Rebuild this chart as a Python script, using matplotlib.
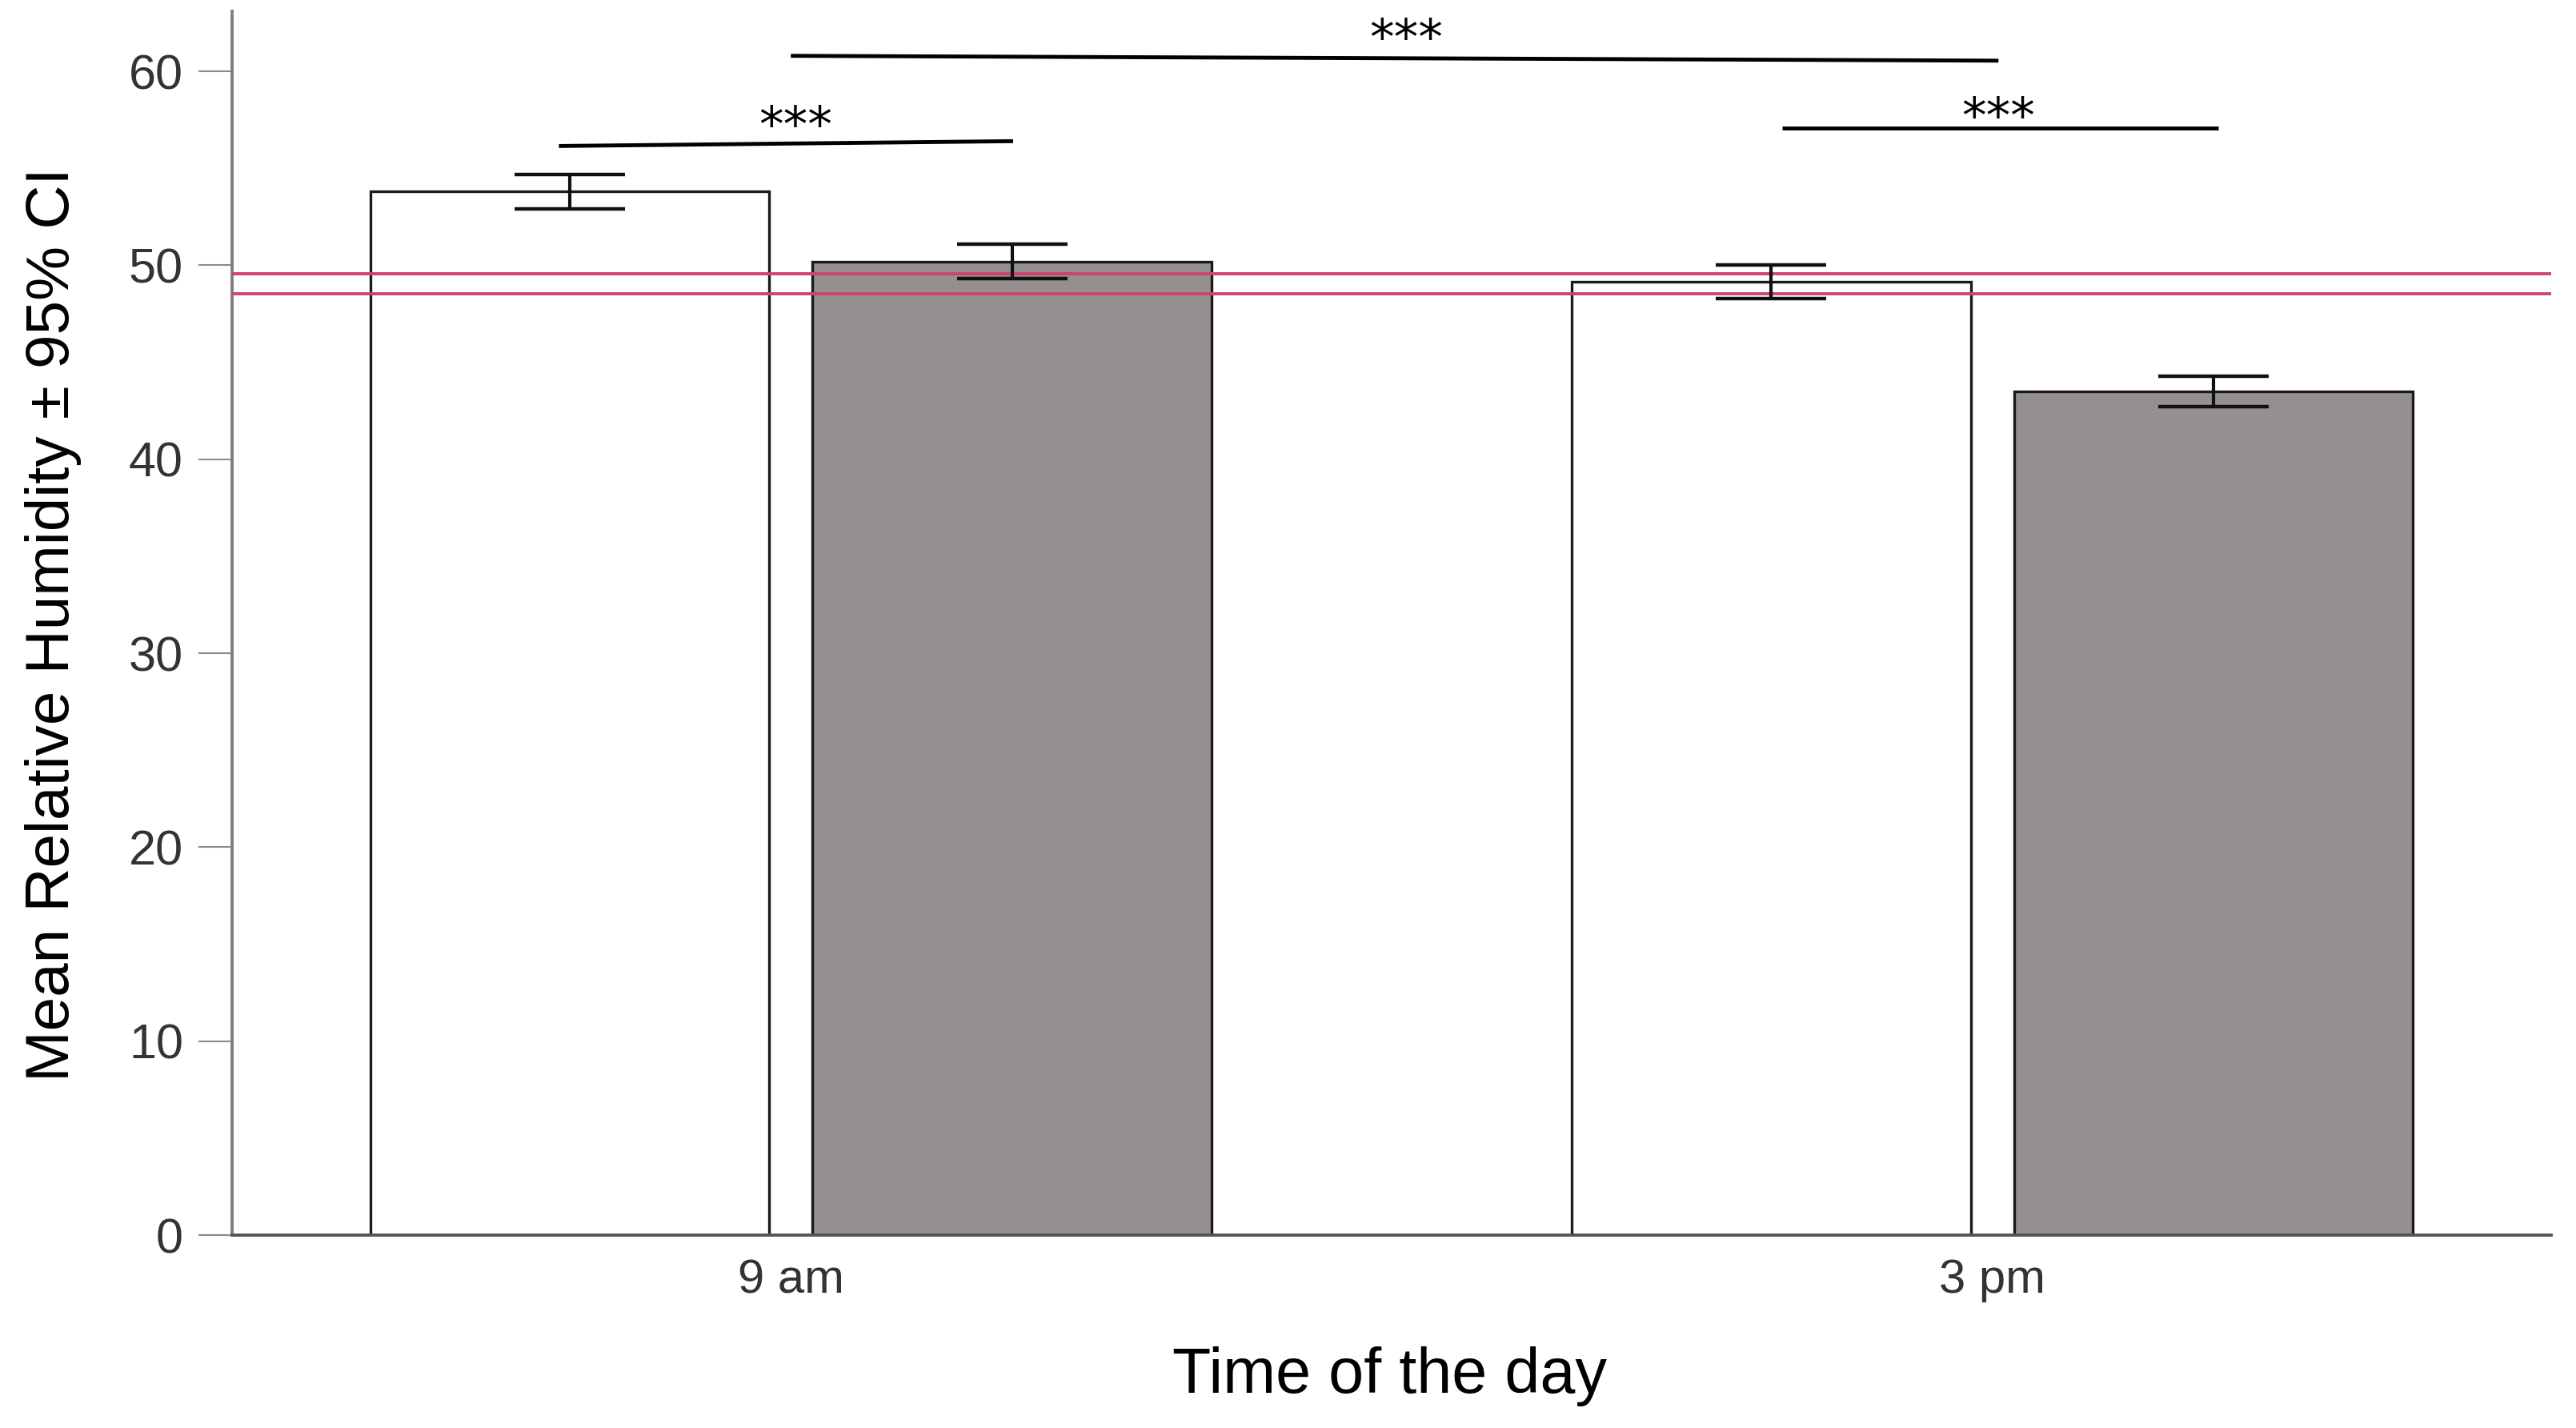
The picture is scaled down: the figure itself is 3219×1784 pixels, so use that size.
import matplotlib
matplotlib.use('Agg')
import matplotlib.pyplot as plt
import numpy as np

# ---- data ----
categories = ['9 am', '3 pm']
white_means = [53.8, 49.15]
white_ci = [0.9, 0.85]
gray_means = [50.2, 43.5]
gray_ci = [0.9, 0.8]
ref_lines = [49.55, 48.55]
yticks = [0, 10, 20, 30, 40, 50, 60]

# significance brackets (data coordinates)
sig_labels = ['***', '***', '***']
sig_x_left = [-0.193, 0.0, 0.825]
sig_x_right = [0.185, 1.005, 1.188]
sig_y_left = [56.15, 60.8, 57.07]
sig_y_right = [56.4, 60.55, 57.07]
star_x = [0.004, 0.512, 1.005]
star_y = [57.9, 62.4, 58.35]

plt.rcParams['font.family'] = ['Liberation Sans', 'DejaVu Sans']

W, H = 3219, 1784
fig = plt.figure(figsize=(W / 100, H / 100), dpi=100)
ax = fig.add_axes([290 / W, 1 - 1543 / H, (3188 - 290) / W, (1543 - 14) / H])

x = np.arange(len(categories))
bw = 0.332
off = 0.184
ax.bar(x - off, white_means, bw, color='white', edgecolor='#1a1a1a', linewidth=2.4, zorder=2)
ax.bar(x + off, gray_means, bw, color='#958f8f', edgecolor='#1a1a1a', linewidth=2.4, zorder=2)

for v in ref_lines:
    ax.axhline(v, color='#d0436b', lw=2.8, zorder=3)

ax.errorbar(x - off, white_means, yerr=white_ci, fmt='none', ecolor='#111111',
            elinewidth=3, capsize=50, capthick=3.2, zorder=4)
ax.errorbar(x + off, gray_means, yerr=gray_ci, fmt='none', ecolor='#111111',
            elinewidth=3, capsize=50, capthick=3.2, zorder=4)

star_fs = 44
for lab, xl, xr, yl, yr, sx, sy in zip(sig_labels, sig_x_left, sig_x_right,
                                       sig_y_left, sig_y_right, star_x, star_y):
    ax.plot([xl, xr], [yl, yr], color='black', lw=3.5, solid_capstyle='butt',
            clip_on=False, zorder=5)
    ax.annotate(lab, (sx, sy), xytext=(0, -0.595 * star_fs), textcoords='offset points',
                ha='center', va='baseline', fontsize=star_fs, family='DejaVu Sans',
                annotation_clip=False)

ax.set_xlim(-0.465, 1.465)
ax.set_ylim(0, 63.1)
ax.set_xticks(x)
ax.set_xticklabels(categories)
ax.set_yticks(yticks)

for s in ['top', 'right']:
    ax.spines[s].set_visible(False)
ax.spines['left'].set_color('#7f7f7f')
ax.spines['left'].set_linewidth(2.8)
ax.spines['bottom'].set_color('#555555')
ax.spines['bottom'].set_linewidth(2.8)

ax.tick_params(axis='y', length=30, width=1.5, color='#8a8a8a', pad=14,
               labelsize=44, labelcolor='#333333')
ax.tick_params(axis='x', length=0, pad=21, labelsize=43, labelcolor='#333333')

fig.text(1737 / W, 1 - 1740 / H, 'Time of the day', ha='center', va='baseline',
         fontsize=57, color='black')
fig.text(86 / W, 1 - 1351 / H, 'Mean Relative Humidity ± 95% CI', rotation=90,
         rotation_mode='anchor', ha='left', va='baseline', fontsize=55, color='black')

fig.savefig('out.png', dpi=100)
